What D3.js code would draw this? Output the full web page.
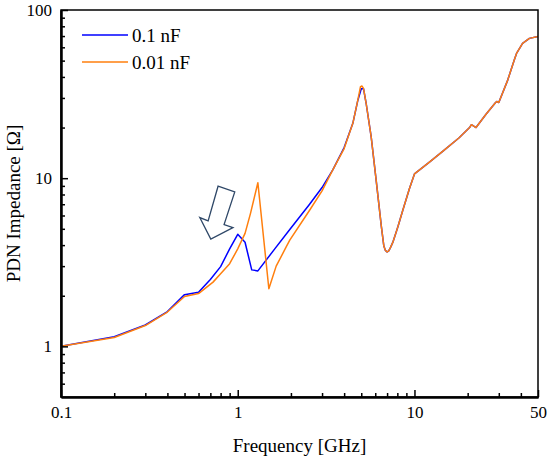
<!DOCTYPE html>
<html>
<head>
<meta charset="utf-8">
<script src="https://cdn.jsdelivr.net/npm/d3@7"></script>
<style>
    body { margin: 0; background: #fff; }
    svg text { font-family: 'Liberation Serif', Tinos, 'Times New Roman', 'DejaVu Serif', serif !important; }
</style>
</head>
<body>
<svg id="chart"></svg>
<script>
// data
const freq01 = [0.1, 0.2, 0.3, 0.4, 0.5, 0.6, 0.7, 0.8, 0.9, 1.0, 1.1, 1.2, 1.3, 1.62, 1.97, 2.55, 3.0, 3.45, 4.0, 4.48, 4.78, 5.0, 5.15,
    5.33, 5.69, 6.07, 6.5, 6.71, 6.85, 7.0, 7.15, 7.3, 7.54, 8.05, 8.59, 9.37, 10, 12.2, 14.5, 17.9, 20.5, 21.0, 22.3, 25.4, 28.7, 29.2, 30, 33.7, 36.7, 37.8, 40.9, 44.7, 50];
const imp01 = [1.0, 1.14, 1.34, 1.61, 2.03, 2.1, 2.5, 2.98, 3.8, 4.64, 4.16, 2.85, 2.81, 3.8, 4.95, 7.0, 8.8, 11.2, 15.2, 21.2, 29.0, 34.0, 34.0,
    27.8, 17.6, 9.73, 5.13, 3.95, 3.72, 3.64, 3.7, 3.85, 4.15, 5.13, 6.45, 8.68, 10.6, 12.5, 14.5, 17.4, 20.0, 20.8, 20.0, 24.0, 28.1, 28.6, 28.2, 38.3, 50.4, 55.2, 63.4, 67.8, 69.5];

const freq001 = [0.1, 0.2, 0.3, 0.4, 0.5, 0.6, 0.725, 0.8, 0.9, 1.0, 1.1, 1.18, 1.3, 1.5, 1.65, 1.88, 1.97, 2.55, 3.0, 3.45, 4.0, 4.48, 4.78, 4.95, 5.05, 5.15,
    5.33, 5.69, 6.07, 6.5, 6.71, 6.85, 7.0, 7.15, 7.3, 7.54, 8.05, 8.59, 9.37, 10, 12.2, 14.5, 17.9, 20.5, 21.0, 22.3, 25.4, 28.7, 29.2, 30, 33.7, 36.7, 37.8, 40.9, 44.7, 50];
const imp001 = [1.0, 1.13, 1.33, 1.60, 1.98, 2.06, 2.41, 2.7, 3.1, 3.8, 4.7, 6.16, 9.4, 2.2, 3.0, 3.9, 4.28, 6.45, 8.4, 11.2, 15.0, 21.2, 29.1, 35.0, 35.3, 34.2,
    27.8, 17.6, 9.73, 5.13, 3.95, 3.72, 3.64, 3.7, 3.85, 4.15, 5.13, 6.45, 8.68, 10.6, 12.5, 14.5, 17.4, 20.0, 20.8, 20.0, 24.0, 28.1, 28.6, 28.2, 38.3, 50.4, 55.2, 63.4, 67.8, 69.5];

const seriesNames = ['0.1 nF', '0.01 nF'];
const seriesColors = ['#0000ff', '#ff7f0e'];

const xMajorTicks = [0.1, 1, 10, 50];
const xMinorTicks = [0.2, 0.3, 0.4, 0.5, 0.6, 0.7, 0.8, 0.9, 2, 3, 4, 5, 6, 7, 8, 9, 20, 30, 40];
const yMajorTicks = [1, 10, 100];
const yMinorTicks = [0.6, 0.7, 0.8, 0.9, 2, 3, 4, 5, 6, 7, 8, 9, 20, 30, 40, 50, 60, 70, 80, 90];

// hollow arrow annotation, in data coordinates (GHz, ohm)
const arrowFreq = [0.774, 0.962, 0.837, 0.940, 0.704, 0.610, 0.680];
const arrowImp = [8.96, 8.29, 5.30, 5.09, 4.34, 5.83, 5.57];

// layout
const width = 550, height = 458;
const margin = { top: 10, right: 12, bottom: 61, left: 61 };
const plotW = width - margin.left - margin.right;
const plotH = height - margin.top - margin.bottom;
const serif = "'Liberation Serif', Tinos, 'Times New Roman', 'DejaVu Serif', serif";

const svg = d3.select('#chart')
    .attr('width', width)
    .attr('height', height)
    .attr('font-family', serif);

const container = svg.append('g')
    .attr('transform', `translate(${margin.left},${margin.top})`);

// scales
const x = d3.scaleLog().domain([0.1, 50]).range([0, plotW]);
const y = d3.scaleLog().domain([0.5, 100]).range([plotH, 0]);

container.append('clipPath')
    .attr('id', 'plot-clip')
    .append('rect')
    .attr('width', plotW)
    .attr('height', plotH);

// curves
const series = [
    { name: seriesNames[0], color: seriesColors[0], values: freq01.map((f, i) => ({ f, z: imp01[i] })) },
    { name: seriesNames[1], color: seriesColors[1], values: freq001.map((f, i) => ({ f, z: imp001[i] })) }
];

const line = d3.line()
    .x(d => x(d.f))
    .y(d => y(d.z));

container.append('g')
    .attr('clip-path', 'url(#plot-clip)')
    .selectAll('path')
    .data(series)
    .join('path')
    .attr('fill', 'none')
    .attr('stroke', d => d.color)
    .attr('stroke-width', 1.5)
    .attr('stroke-linejoin', 'round')
    .attr('d', d => line(d.values));

// arrow
const arrowPts = arrowFreq.map((f, i) => [x(f), y(arrowImp[i])]);
container.append('path')
    .attr('d', 'M' + arrowPts.join('L') + 'Z')
    .attr('fill', '#fff')
    .attr('stroke', '#2f4868')
    .attr('stroke-width', 1.3)
    .attr('stroke-linejoin', 'miter');

// frame
container.append('rect')
    .attr('width', plotW)
    .attr('height', plotH)
    .attr('fill', 'none')
    .attr('stroke', '#000')
    .attr('stroke-width', 1.5);

// axes (ticks point into the plot)
function styleAxis(g) {
    g.attr('font-family', serif).attr('font-size', 17);
    g.select('.domain').attr('stroke-width', 2);
    g.selectAll('.tick line').attr('stroke-width', 1.5);
    g.selectAll('.tick text').attr('fill', '#000');
}

container.append('g')
    .attr('transform', `translate(0,${plotH})`)
    .call(d3.axisBottom(x).tickValues(xMinorTicks).tickSize(-4).tickSizeOuter(0).tickFormat(''))
    .call(styleAxis);

container.append('g')
    .attr('transform', `translate(0,${plotH})`)
    .call(d3.axisBottom(x).tickValues(xMajorTicks).tickSize(-7).tickSizeOuter(0).tickPadding(9).tickFormat(d3.format('~g')))
    .call(styleAxis);

container.append('g')
    .call(d3.axisLeft(y).tickValues(yMinorTicks).tickSize(-4).tickSizeOuter(0).tickFormat(''))
    .call(styleAxis);

container.append('g')
    .call(d3.axisLeft(y).tickValues(yMajorTicks).tickSize(-7).tickSizeOuter(0).tickPadding(9).tickFormat(d3.format('~g')))
    .call(styleAxis);

// axis titles
svg.append('text')
    .attr('x', margin.left + plotW / 2)
    .attr('y', 452)
    .attr('text-anchor', 'middle')
    .attr('font-size', 19)
    .text('Frequency [GHz]');

svg.append('text')
    .attr('transform', `translate(20,${margin.top + plotH / 2}) rotate(-90)`)
    .attr('text-anchor', 'middle')
    .attr('font-size', 19)
    .text('PDN Impedance [Ω]');

// legend
const legend = container.append('g')
    .attr('transform', 'translate(21,25)');

const legendItem = legend.selectAll('g')
    .data(series)
    .join('g')
    .attr('transform', (d, i) => `translate(0,${i * 27})`);

legendItem.append('line')
    .attr('x1', 0)
    .attr('x2', 46)
    .attr('stroke', d => d.color)
    .attr('stroke-width', 1.5);

legendItem.append('text')
    .attr('x', 50)
    .attr('dy', '0.35em')
    .attr('font-size', 19)
    .text(d => d.name);
</script>
</body>
</html>
